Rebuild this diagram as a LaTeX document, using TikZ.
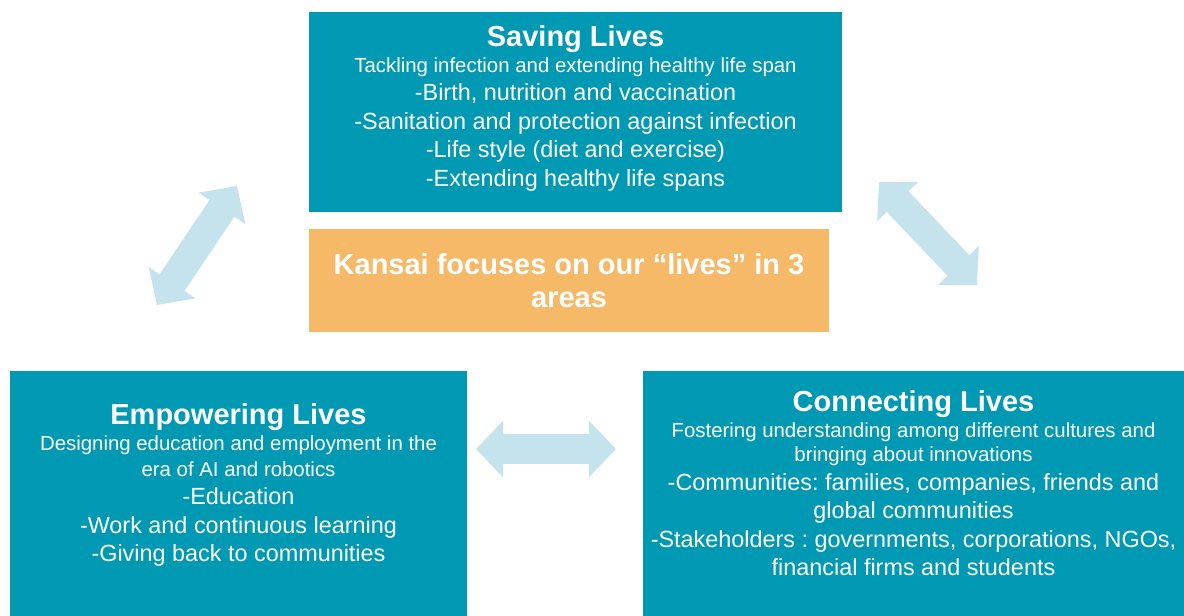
\documentclass[tikz,border=0pt]{standalone}
\usepackage{fontspec}
\setmainfont{Liberation Sans}
\usetikzlibrary{arrows.meta,positioning}
\definecolor{lifeteal}{HTML}{0099B4}
\definecolor{lifesand}{HTML}{F5B968}
\definecolor{lifemist}{HTML}{C4E3EC}
\frenchspacing
\newcommand{\hd}[1]{{\fontsize{29}{29}\selectfont\bfseries #1}}
\newcommand{\subl}[1]{{\fontsize{20.4}{24}\selectfont #1}}
\tikzset{
    x=1pt,y=-1pt,
    panel/.style ={rectangle, fill=lifeteal, inner sep=0pt},
    focus/.style ={rectangle, fill=lifesand, inner sep=0pt, text=white, align=center,
                   font=\fontsize{29}{33}\selectfont\bfseries},
    txt/.style = {text=white, align=center, inner sep=0pt, font=\fontsize{23.4}{28.4}\selectfont},
    twoway/.style={{Triangle[length=27pt,width=55pt]}-{Triangle[length=27pt,width=55pt]},
                   lifemist, line width=30pt}
}
\begin{document}
\begin{tikzpicture}
    \useasboundingbox (0,0) rectangle (1184,616);
    % the three areas
    \node[panel, minimum width=533pt, minimum height=200pt] (save) at (575.5,112) {};
    \node[panel, minimum width=457pt, minimum height=245pt] (empower) at (238.5,493.5) {};
    \node[panel, minimum width=541pt, minimum height=245pt] (connect) at (913.5,493.5) {};
    \node[focus, minimum width=520pt, minimum height=103pt] (kansai) at (569,280.5)
        {Kansai focuses on our “lives” in 3\\areas};

    \node[txt] (savetxt) at (575.5,108) {\hd{Saving Lives}\\[-2pt]
        \subl{Tackling infection and extending healthy life span}\\
        -Birth, nutrition and vaccination\\
        -Sanitation and protection against infection\\
        -Life style (diet and exercise)\\
        -Extending healthy life spans};
    \node[txt] (empowertxt) at (238.5,485) {\hd{Empowering Lives}\\[-2pt]
        \subl{Designing education and employment in the}\\[-3pt]
        \subl{era of AI and robotics}\\
        -Education\\
        -Work and continuous learning\\
        -Giving back to communities};
    \node[txt] (connecttxt) at (913.5,483) {\hd{Connecting Lives}\\[-2pt]
        \subl{Fostering understanding among different cultures and}\\[-4pt]
        \subl{bringing about innovations}\\
        -Communities: families, companies, friends and\\
        global communities\\
        -Stakeholders : governments, corporations, NGOs,\\
        financial firms and students};

    % arrows between the areas
    \coordinate (el) at (157,305);
    \coordinate (es) at (237,186);
    \coordinate (sc) at (879,182);
    \coordinate (cs) at (977,285);
    \coordinate (ec) at (476,449);
    \coordinate (ce) at (616,449);
    \path[twoway] (el) edge (es);
    \path[twoway] (sc) edge (cs);
    \path[twoway] (ec) edge (ce);
\end{tikzpicture}
\end{document}
